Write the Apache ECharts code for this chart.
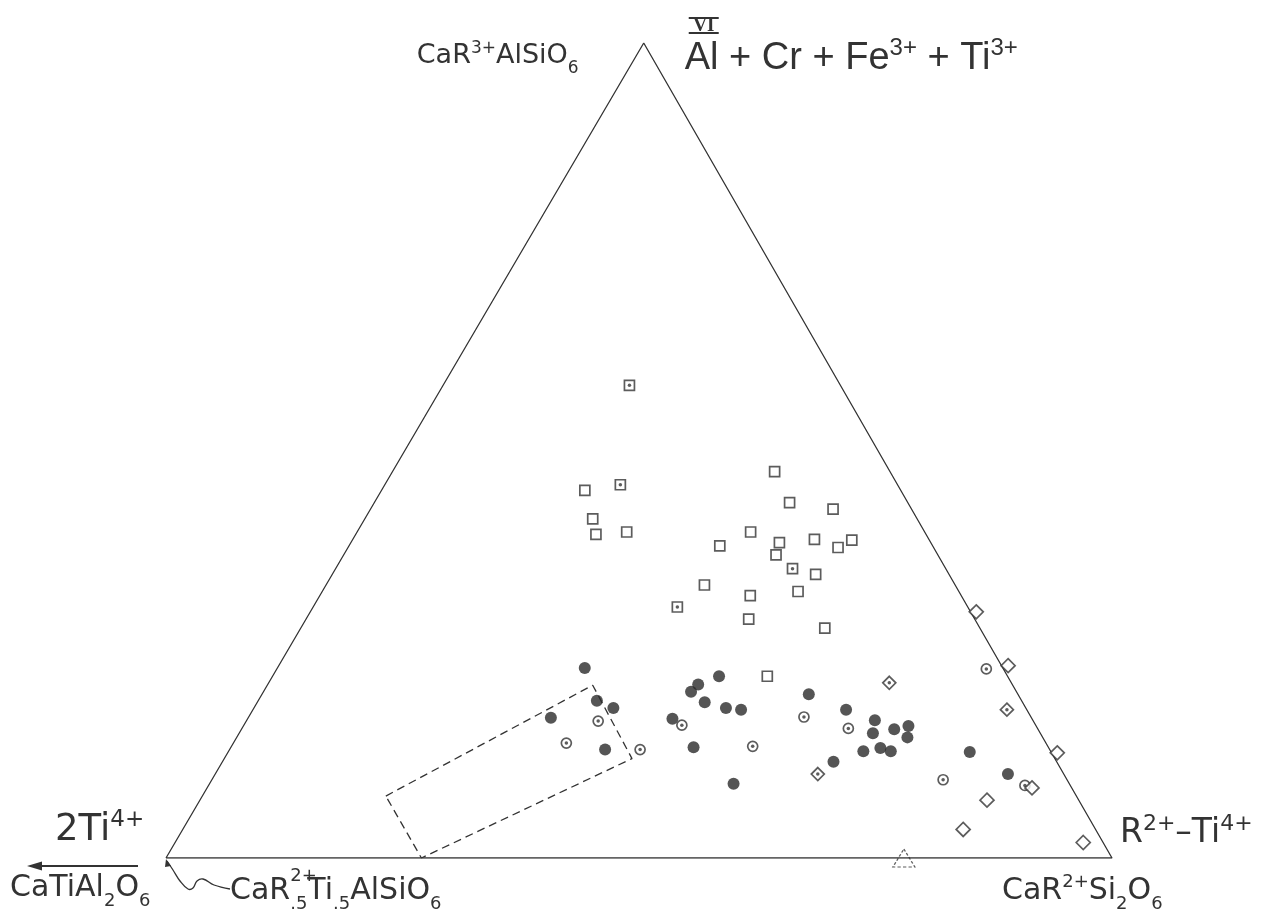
<!DOCTYPE html>
<html>
<head>
<meta charset="utf-8">
<title>Pyroxene ternary</title>
<script src="https://cdn.jsdelivr.net/npm/echarts@6.0.0/dist/echarts.min.js"></script>
<style>
  html, body { margin: 0; padding: 0; background: #fff; }
  #chart { width: 1271px; height: 913px; }
</style>
</head>
<body>
<div id="chart"></div>
<script>
// compositions in percent, [VI(Al+Cr+Fe3+ +Ti3+), R2+-Ti4+]; 2Ti4+ is the rest
const openSquares = [
  [45.1, 21.5], [41.6, 24.1], [39.7, 25.4], [40.0, 28.5], [47.4, 40.4], [43.6, 43.9],
  [42.8, 48.9], [40.0, 41.6], [38.3, 39.2], [38.7, 45.3], [37.2, 45.7], [39.1, 48.8],
  [38.1, 51.8], [39.0, 52.8], [34.8, 51.1], [33.5, 40.0], [32.2, 45.5], [32.7, 50.3],
  [29.3, 46.8], [28.2, 55.4], [22.3, 52.3]
]
const dottedSquares = [[58.0, 19.7], [45.8, 24.9], [35.5, 48.3], [30.8, 38.5]]
const filledCircles = [
  [23.3, 32.5], [19.3, 35.8], [18.4, 38.0], [17.2, 32.0], [13.3, 39.7], [21.3, 45.5],
  [20.4, 45.2], [22.3, 47.2], [19.1, 47.3], [18.4, 49.9], [18.2, 51.6], [17.1, 44.9],
  [13.6, 48.9], [9.1, 55.4], [20.1, 57.8], [18.2, 62.7], [16.9, 66.4], [15.3, 67.0],
  [15.8, 69.0], [16.2, 70.3], [14.8, 70.9], [13.1, 67.1], [13.5, 68.7], [13.1, 70.0],
  [11.8, 64.6], [13.0, 78.4], [10.3, 83.8]
]
const circledDots = [
  [16.8, 37.2], [14.1, 35.2], [13.3, 43.4], [16.3, 46.3], [13.7, 55.1], [17.3, 58.7],
  [15.9, 64.1], [23.2, 75.0], [9.6, 77.3], [8.9, 86.3]
]
const openDiamonds = [[30.2, 70.4], [23.6, 77.1], [12.9, 87.7], [8.6, 87.2], [7.1, 83.2], [3.5, 82.5], [1.9, 96.0]]
const dottedDiamonds = [[21.5, 65.6], [10.3, 63.7], [18.2, 79.7]]
const dashedTriangles = [[0, 78.0]]
// dashed field drawn near the base
const fieldBox = [[7.6, 19.4], [21.2, 34.4], [12.2, 43.1], [0, 27.0]]
// corners: 2Ti4+, R2+-Ti4+, VI
const corners = [[0, 0], [0, 100], [100, 0]]

const APEX_SHIFT = 0.505 // apex sits a little right of the base centre
const INK = '#333'
const SANS = '"DejaVu Sans", sans-serif'
const ARIAL = '"Liberation Sans", Arial, sans-serif'

function toXY(p) {
  return [p[1] + APEX_SHIFT * p[0], p[0]]
}

function ring(pts, symbol, size) {
  return {
    type: 'scatter',
    data: pts.map(toXY),
    symbol: symbol,
    symbolSize: size,
    itemStyle: { color: '#fff', borderColor: INK, borderWidth: 1.7 },
    z: 3
  }
}
function dots(pts) {
  return {
    type: 'scatter',
    data: pts.map(toXY),
    symbol: 'circle',
    symbolSize: 3.5,
    itemStyle: { color: INK },
    z: 4
  }
}

const chart = echarts.init(document.getElementById('chart'))
chart.setOption({
  animation: false,
  grid: { left: 166, right: 159, top: 43, bottom: 55 },
  xAxis: { type: 'value', min: 0, max: 100, show: false },
  yAxis: { type: 'value', min: 0, max: 100, show: false },
  series: [
    {
      type: 'line',
      data: corners.concat([corners[0]]).map(toXY),
      symbol: 'none',
      lineStyle: { color: INK, width: 1.3 },
      z: 1
    },
    {
      type: 'line',
      data: fieldBox.concat([fieldBox[0]]).map(toXY),
      symbol: 'none',
      lineStyle: { color: INK, width: 1.3, type: [8, 5] },
      z: 1
    },
    ring(openSquares, 'rect', 10),
    ring(dottedSquares, 'rect', 10),
    dots(dottedSquares),
    {
      type: 'scatter',
      data: filledCircles.map(toXY),
      symbol: 'circle',
      symbolSize: 12,
      itemStyle: { color: '#2a2a2a' },
      z: 3
    },
    ring(circledDots, 'circle', 10),
    dots(circledDots),
    ring(openDiamonds, 'diamond', 14),
    ring(dottedDiamonds, 'diamond', 13),
    dots(dottedDiamonds),
    {
      type: 'scatter',
      data: dashedTriangles.map(toXY),
      symbol: 'triangle',
      symbolSize: [22, 18],
      itemStyle: { color: 'rgba(0,0,0,0)', borderColor: INK, borderWidth: 1.2, borderType: [3, 2] },
      z: 3
    }
  ]
})

// labels and arrows are placed from the corner pixels
const px = p => chart.convertToPixel({ seriesIndex: 0 }, toXY(p))
const L = px(corners[0]), R = px(corners[1]), T = px(corners[2])

const measure = document.createElement('canvas').getContext('2d')
function textWidth(s, size, family) {
  measure.font = size + 'px ' + family
  return measure.measureText(s).width
}

// y is the middle of the capitals; sup tops line up with the caps,
// subs hang about half a size below
function label(x, y, text, family, size, small) {
  const supPad = Math.max(0, 0.35 * size - 0.14 * small)
  const subPad = Math.max(0, 0.4 * size - 0.5 * small)
  return {
    type: 'text',
    x: x,
    y: y,
    silent: true,
    style: {
      text: text,
      fontFamily: family,
      fontSize: size,
      lineHeight: size * 1.7,
      fill: INK,
      align: 'left',
      verticalAlign: 'middle',
      rich: {
        sup: { fontFamily: family, fontSize: small, verticalAlign: 'top', padding: [supPad, 0, 0, 0], fill: INK },
        sub: { fontFamily: family, fontSize: small, verticalAlign: 'bottom', padding: [0, 0, subPad, 0], fill: INK }
      }
    }
  }
}

const g = []
g.push(label(T[0] - 227, T[1] + 13, 'CaR{sup|3+}AlSiO{sub|6}', SANS, 27, 17))
g.push(label(T[0] + 41, T[1] + 16, 'Al + Cr + Fe{sup|3+} + Ti{sup|3+}', ARIAL, 38, 24))
// roman VI with bars over the Al
g.push({
  type: 'text', x: T[0] + 60, y: T[1] - 17, silent: true,
  style: { text: 'VI', fontFamily: '"Liberation Serif", serif', fontWeight: 'bold', fontSize: 19, fill: INK, align: 'center', verticalAlign: 'middle' }
})
g.push({ type: 'line', silent: true, shape: { x1: T[0] + 45, y1: T[1] - 25, x2: T[0] + 75, y2: T[1] - 25 }, style: { stroke: INK, lineWidth: 2 } })
g.push({ type: 'line', silent: true, shape: { x1: T[0] + 45, y1: T[1] - 10, x2: T[0] + 75, y2: T[1] - 10 }, style: { stroke: INK, lineWidth: 2 } })

g.push(label(L[0] - 111, L[1] - 28, '2Ti{sup|4+}', SANS, 37, 23))
g.push({ type: 'line', silent: true, shape: { x1: L[0] - 28, y1: L[1] + 8, x2: L[0] - 126, y2: L[1] + 8 }, style: { stroke: INK, lineWidth: 2 } })
g.push({ type: 'polygon', silent: true, shape: { points: [[L[0] - 139, L[1] + 8], [L[0] - 124, L[1] + 3.5], [L[0] - 124, L[1] + 12.5]] }, style: { fill: INK } })
g.push(label(L[0] - 156, L[1] + 30, 'CaTiAl{sub|2}O{sub|6}', SANS, 30, 18))

const midLeft = L[0] + 64
g.push(label(midLeft, L[1] + 33, 'CaR{sub|.5}Ti{sub|.5}AlSiO{sub|6}', SANS, 30, 18))
g.push({
  type: 'text', x: midLeft + textWidth('CaR', 30, SANS), y: L[1] + 18, silent: true,
  style: { text: '2+', fontFamily: SANS, fontSize: 18, fill: INK, align: 'left', verticalAlign: 'middle' }
})
// wavy pointer to the 2Ti4+ corner
g.push({
  type: 'polyline', silent: true,
  shape: {
    points: [[64, 31], [48, 27], [37, 21], [31, 23], [27, 30], [22, 31], [14, 23], [7, 12], [1, 3]]
      .map(d => [L[0] + d[0], L[1] + d[1]]),
    smooth: 0.4
  },
  style: { stroke: INK, lineWidth: 1.3, fill: null }
})
g.push({ type: 'polygon', silent: true, shape: { points: [[L[0], L[1] + 1], [L[0] + 5, L[1] + 8], [L[0] - 1, L[1] + 9]] }, style: { fill: INK } })

g.push(label(R[0] + 8, R[1] - 25, 'R{sup|2+}–Ti{sup|4+}', SANS, 33, 22))
g.push(label(R[0] - 110, R[1] + 33, 'CaR{sup|2+}Si{sub|2}O{sub|6}', SANS, 30, 18))

chart.setOption({ graphic: g })
</script>
</body>
</html>
